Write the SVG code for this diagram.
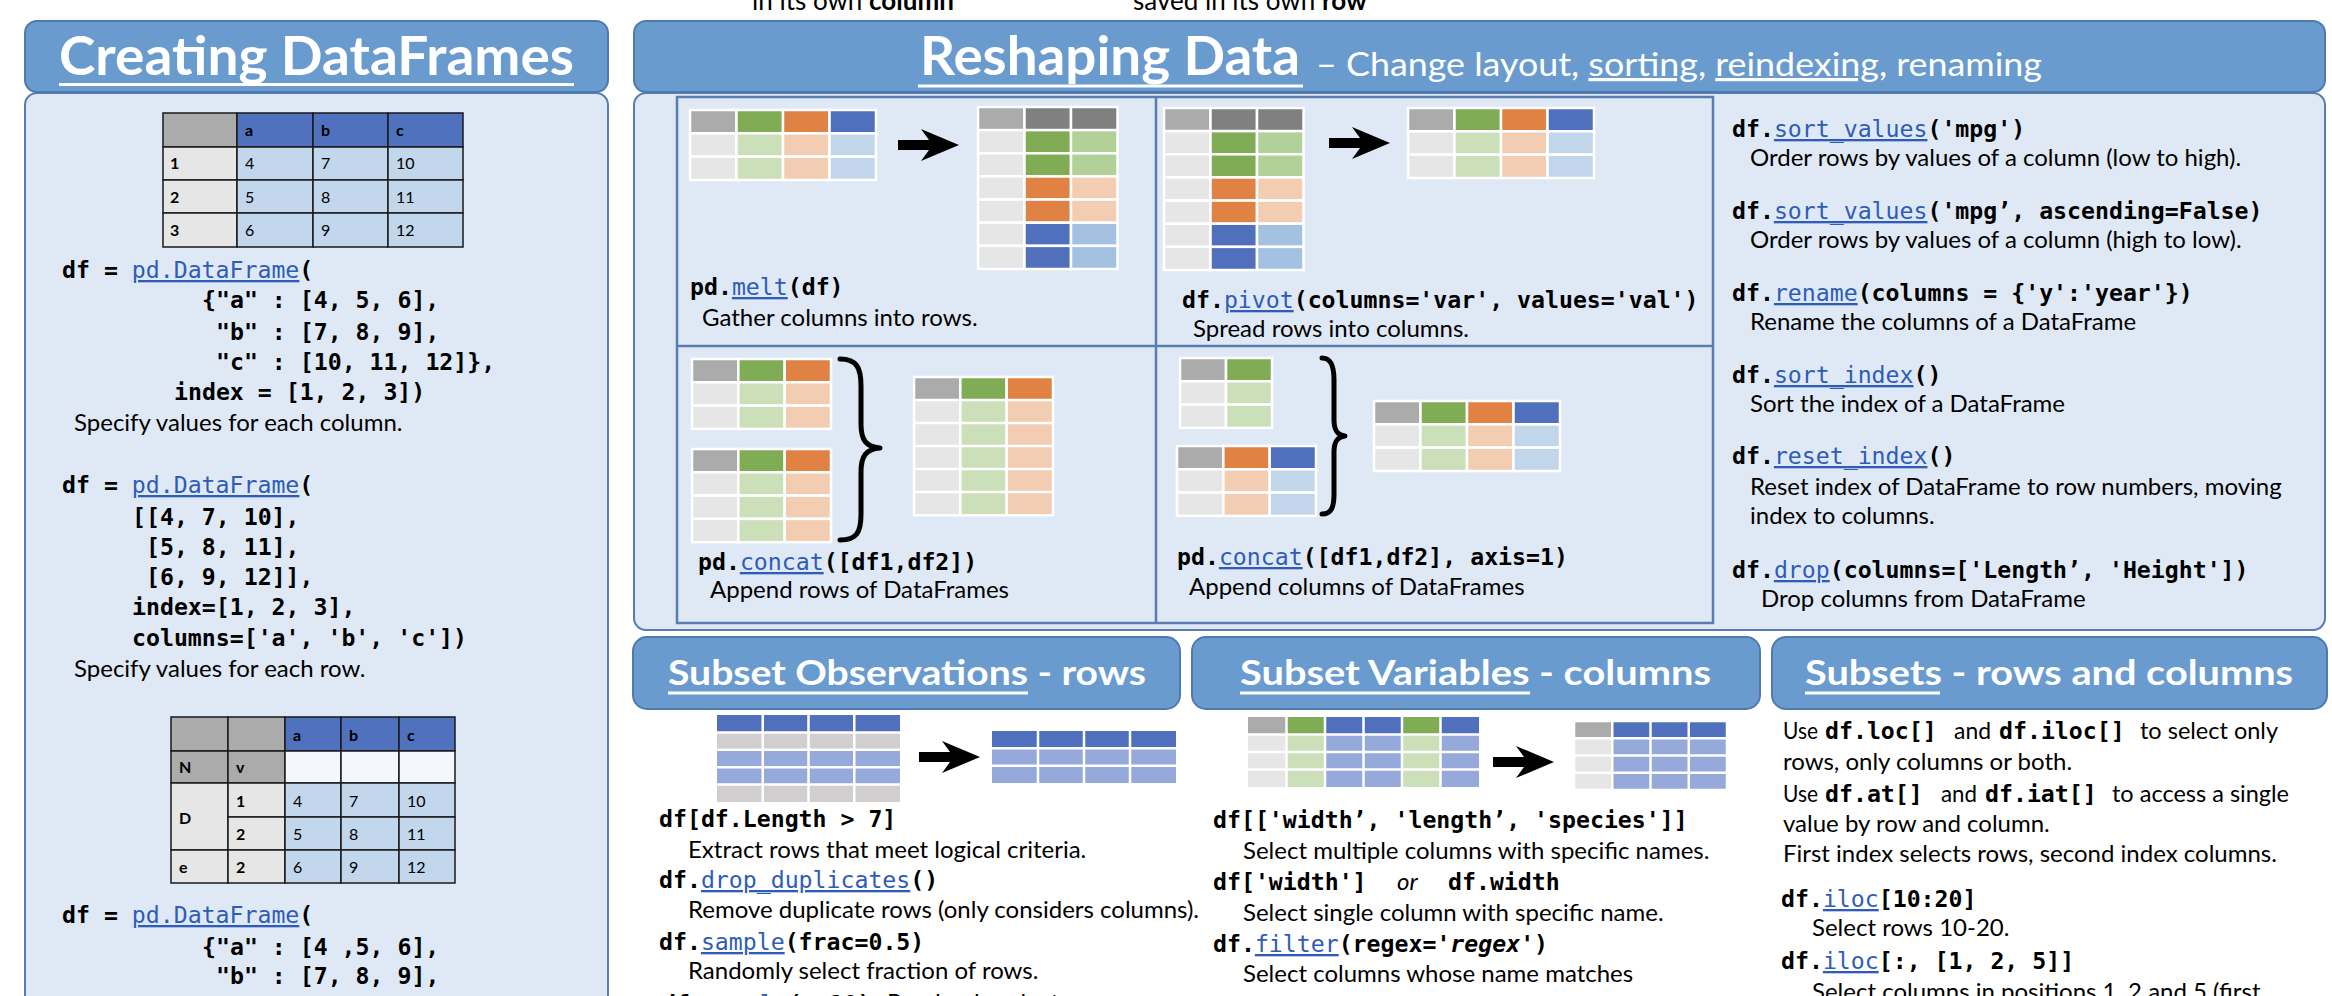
<svg xmlns="http://www.w3.org/2000/svg" xmlns:xlink="http://www.w3.org/1999/xlink" width="2332" height="996" viewBox="0 0 2332 996">
<style>
.code{font-family:"DejaVu Sans Mono",monospace;font-weight:bold;font-size:23.2px;fill:#000}
.lnk{font-weight:normal;fill:#2E5CB8;text-decoration:underline}
.desc{font-family:Lato,"Open Sans",sans-serif;font-size:24px;fill:#000}
.top{font-family:Lato,"Open Sans",sans-serif;font-size:26px;fill:#000}
.hdr{fill:#6A9BCF;stroke:#4F7AB0;stroke-width:2}
.body{fill:#DFE9F5;stroke:#587CAF;stroke-width:2}
.ttl{font-family:Lato,"Open Sans",sans-serif;font-weight:bold;fill:#fff}
.sub{font-family:Lato,"Open Sans",sans-serif;font-weight:normal;fill:#fff}
.ul{stroke:#fff;stroke-width:3}
.grid{fill:none;stroke:#5A7DAF;stroke-width:2.5}
.cells rect{stroke:#fff;stroke-width:2.5}
.wl{fill:none;stroke:#fff;stroke-width:2.5}
.bt rect{stroke:#1a1a1a;stroke-width:1.5}
.ct{font-family:Lato,"Open Sans",sans-serif;font-size:16px;fill:#000}
.ctb{font-family:Lato,"Open Sans",sans-serif;font-size:16px;font-weight:bold;fill:#000}
.g0{fill:#ABABAB}.gn{fill:#7FAC55}.or{fill:#E08244}.bl{fill:#5070BE}.dg{fill:#808080}
.lg{fill:#E6E6E6}.lgn{fill:#CBDFB8}.lor{fill:#F2CDB2}.lbl{fill:#C2D6EB}.mgn{fill:#B2D198}.mbl{fill:#A4C1E2}
.sb{fill:#95A9DA}.sg{fill:#D0CECE}
.tb{fill:#4F71BE}.td{fill:#C2D6EC}.ti{fill:#E6E6E6}.tw{fill:#F4F7FB}
.brace{fill:none;stroke:#000;stroke-width:5;stroke-linecap:round;stroke-linejoin:round}
</style>
<defs>
<path id="arr" d="M0,-5 H31 L23,-16 L61,0 L23,16 L31,5 H0 Z" fill="#000"/>
<g id="wide4" class="cells">
<rect x="0" y="0" width="46.5" height="23.33" class="g0"/><rect x="46.5" y="0" width="46.5" height="23.33" class="gn"/><rect x="93" y="0" width="46.5" height="23.33" class="or"/><rect x="139.5" y="0" width="46.5" height="23.33" class="bl"/>
<rect x="0" y="23.33" width="46.5" height="23.33" class="lg"/><rect x="46.5" y="23.33" width="46.5" height="23.33" class="lgn"/><rect x="93" y="23.33" width="46.5" height="23.33" class="lor"/><rect x="139.5" y="23.33" width="46.5" height="23.33" class="lbl"/>
<rect x="0" y="46.67" width="46.5" height="23.33" class="lg"/><rect x="46.5" y="46.67" width="46.5" height="23.33" class="lgn"/><rect x="93" y="46.67" width="46.5" height="23.33" class="lor"/><rect x="139.5" y="46.67" width="46.5" height="23.33" class="lbl"/>
</g>
<g id="long3" class="cells">
<rect x="0" y="0" width="46.5" height="23.14" class="g0"/><rect x="46.5" y="0" width="46.5" height="23.14" class="dg"/><rect x="93" y="0" width="46.5" height="23.14" class="dg"/>
<rect x="0" y="23.14" width="46.5" height="23.14" class="lg"/><rect x="46.5" y="23.14" width="46.5" height="23.14" class="gn"/><rect x="93" y="23.14" width="46.5" height="23.14" class="mgn"/>
<rect x="0" y="46.29" width="46.5" height="23.14" class="lg"/><rect x="46.5" y="46.29" width="46.5" height="23.14" class="gn"/><rect x="93" y="46.29" width="46.5" height="23.14" class="mgn"/>
<rect x="0" y="69.43" width="46.5" height="23.14" class="lg"/><rect x="46.5" y="69.43" width="46.5" height="23.14" class="or"/><rect x="93" y="69.43" width="46.5" height="23.14" class="lor"/>
<rect x="0" y="92.57" width="46.5" height="23.14" class="lg"/><rect x="46.5" y="92.57" width="46.5" height="23.14" class="or"/><rect x="93" y="92.57" width="46.5" height="23.14" class="lor"/>
<rect x="0" y="115.71" width="46.5" height="23.14" class="lg"/><rect x="46.5" y="115.71" width="46.5" height="23.14" class="bl"/><rect x="93" y="115.71" width="46.5" height="23.14" class="mbl"/>
<rect x="0" y="138.86" width="46.5" height="23.14" class="lg"/><rect x="46.5" y="138.86" width="46.5" height="23.14" class="bl"/><rect x="93" y="138.86" width="46.5" height="23.14" class="mbl"/>
</g>
<g id="hdr3" class="cells"><rect x="0" y="0" width="46.33" height="23.3" class="g0"/><rect x="46.33" y="0" width="46.33" height="23.3" class="gn"/><rect x="92.67" y="0" width="46.33" height="23.3" class="or"/></g>
<g id="body3" class="cells"><rect x="0" y="0" width="46.33" height="23.3" class="lg"/><rect x="46.33" y="0" width="46.33" height="23.3" class="lgn"/><rect x="92.67" y="0" width="46.33" height="23.3" class="lor"/></g>
</defs>

<rect x="0" y="0" width="2332" height="996" fill="#fff"/>

<g id="top-captions">
<text class="top" x="752" y="10">in its own <tspan font-weight="bold">column</tspan></text>
<text class="top" x="1133" y="10">saved in its own <tspan font-weight="bold">row</tspan></text>
</g>

<g id="creating-dataframes">
<rect class="body" x="25" y="93" width="583" height="930" rx="12"/>
<rect class="hdr" x="25" y="21" width="583" height="71" rx="12"/>
<text class="ttl" x="59" y="75" font-size="53" textLength="515" lengthAdjust="spacingAndGlyphs">Creating DataFrames</text>
<line class="ul" x1="59" y1="84.5" x2="574" y2="84.5"/>
<g id="table1" class="bt">
<rect x="163" y="113" width="74" height="34" class="g0"/><rect x="237" y="113" width="76" height="34" class="tb"/><rect x="313" y="113" width="75" height="34" class="tb"/><rect x="388" y="113" width="75" height="34" class="tb"/>
<rect x="163" y="147" width="74" height="33" class="ti"/><rect x="237" y="147" width="76" height="33" class="td"/><rect x="313" y="147" width="75" height="33" class="td"/><rect x="388" y="147" width="75" height="33" class="td"/>
<rect x="163" y="180" width="74" height="33" class="ti"/><rect x="237" y="180" width="76" height="33" class="td"/><rect x="313" y="180" width="75" height="33" class="td"/><rect x="388" y="180" width="75" height="33" class="td"/>
<rect x="163" y="213" width="74" height="34" class="ti"/><rect x="237" y="213" width="76" height="34" class="td"/><rect x="313" y="213" width="75" height="34" class="td"/><rect x="388" y="213" width="75" height="34" class="td"/>
<text class="ctb" x="245" y="136">a</text><text class="ctb" x="321" y="136">b</text><text class="ctb" x="396" y="136">c</text>
<text class="ctb" x="170" y="169">1</text><text class="ct" x="245" y="169">4</text><text class="ct" x="321" y="169">7</text><text class="ct" x="396" y="169">10</text>
<text class="ctb" x="170" y="203">2</text><text class="ct" x="245" y="203">5</text><text class="ct" x="321" y="203">8</text><text class="ct" x="396" y="203">11</text>
<text class="ctb" x="170" y="236">3</text><text class="ct" x="245" y="236">6</text><text class="ct" x="321" y="236">9</text><text class="ct" x="396" y="236">12</text>
</g>
<text class="code" x="62" y="278">df = <tspan class="lnk">pd.DataFrame</tspan>(</text>
<text class="code" x="202" y="308">{"a" : [4, 5, 6],</text>
<text class="code" x="216" y="340">"b" : [7, 8, 9],</text>
<text class="code" x="216" y="370">"c" : [10, 11, 12]},</text>
<text class="code" x="174" y="400">index = [1, 2, 3])</text>
<text class="desc" x="74" y="431">Specify values for each column.</text>
<text class="code" x="62" y="493">df = <tspan class="lnk">pd.DataFrame</tspan>(</text>
<text class="code" x="132" y="525">[[4, 7, 10],</text>
<text class="code" x="146" y="555">[5, 8, 11],</text>
<text class="code" x="146" y="585">[6, 9, 12]],</text>
<text class="code" x="132" y="615">index=[1, 2, 3],</text>
<text class="code" x="132" y="646">columns=['a', 'b', 'c'])</text>
<text class="desc" x="74" y="677">Specify values for each row.</text>
<g id="table2" class="bt">
<rect x="171" y="717" width="57" height="34" class="g0"/><rect x="228" y="717" width="57" height="34" class="g0"/><rect x="285" y="717" width="56" height="34" class="tb"/><rect x="341" y="717" width="58" height="34" class="tb"/><rect x="399" y="717" width="56" height="34" class="tb"/>
<rect x="171" y="751" width="57" height="32" class="g0"/><rect x="228" y="751" width="57" height="32" class="g0"/><rect x="285" y="751" width="56" height="32" class="tw"/><rect x="341" y="751" width="58" height="32" class="tw"/><rect x="399" y="751" width="56" height="32" class="tw"/>
<rect x="171" y="783" width="57" height="67" class="ti"/><rect x="228" y="783" width="57" height="34" class="ti"/><rect x="285" y="783" width="56" height="34" class="td"/><rect x="341" y="783" width="58" height="34" class="td"/><rect x="399" y="783" width="56" height="34" class="td"/>
<rect x="228" y="817" width="57" height="33" class="ti"/><rect x="285" y="817" width="56" height="33" class="td"/><rect x="341" y="817" width="58" height="33" class="td"/><rect x="399" y="817" width="56" height="33" class="td"/>
<rect x="171" y="850" width="57" height="33" class="ti"/><rect x="228" y="850" width="57" height="33" class="ti"/><rect x="285" y="850" width="56" height="33" class="td"/><rect x="341" y="850" width="58" height="33" class="td"/><rect x="399" y="850" width="56" height="33" class="td"/>
<text class="ctb" x="293" y="741">a</text><text class="ctb" x="349" y="741">b</text><text class="ctb" x="407" y="741">c</text>
<text class="ctb" x="179" y="773">N</text><text class="ctb" x="236" y="773">v</text>
<text class="ctb" x="179" y="824">D</text>
<text class="ctb" x="236" y="807">1</text><text class="ct" x="293" y="807">4</text><text class="ct" x="349" y="807">7</text><text class="ct" x="407" y="807">10</text>
<text class="ctb" x="236" y="840">2</text><text class="ct" x="293" y="840">5</text><text class="ct" x="349" y="840">8</text><text class="ct" x="407" y="840">11</text>
<text class="ctb" x="179" y="873">e</text><text class="ctb" x="236" y="873">2</text><text class="ct" x="293" y="873">6</text><text class="ct" x="349" y="873">9</text><text class="ct" x="407" y="873">12</text>
</g>
<text class="code" x="62" y="923">df = <tspan class="lnk">pd.DataFrame</tspan>(</text>
<text class="code" x="202" y="955">{"a" : [4 ,5, 6],</text>
<text class="code" x="216" y="984">"b" : [7, 8, 9],</text>
</g>

<g id="reshaping-data">
<rect class="body" x="634" y="93" width="1691" height="537" rx="12"/>
<rect class="hdr" x="634" y="21" width="1691" height="71" rx="12"/>
<text class="ttl" x="920" y="75" font-size="53" textLength="380" lengthAdjust="spacingAndGlyphs">Reshaping Data</text>
<line class="ul" x1="918" y1="86" x2="1303" y2="86"/>
<text class="sub" x="1316" y="76" font-size="32" textLength="726" lengthAdjust="spacingAndGlyphs">– Change layout, <tspan text-decoration="underline">sorting</tspan>, <tspan text-decoration="underline">reindexing</tspan>, renaming</text>
<path class="grid" d="M677,97 H1713 V623 H677 Z M1156,97 V623 M677,346 H1713"/>
</g>

<g id="melt">
<use xlink:href="#wide4" x="690" y="110"/>
<use xlink:href="#long3" x="978" y="107"/>
<text class="code" x="690" y="295">pd.<tspan class="lnk">melt</tspan>(df)</text>
<text class="desc" x="702" y="326">Gather columns into rows.</text>
</g>

<g id="pivot">
<use xlink:href="#long3" x="1164" y="108"/>
<use xlink:href="#wide4" x="1408" y="108"/>
<text class="code" x="1182" y="308">df.<tspan class="lnk">pivot</tspan>(columns='var', values='val')</text>
<text class="desc" x="1193" y="337">Spread rows into columns.</text>
</g>

<g id="concat-rows">
<use xlink:href="#hdr3" x="692" y="359"/><use xlink:href="#body3" x="692" y="382.3"/><use xlink:href="#body3" x="692" y="405.6"/>
<use xlink:href="#hdr3" x="692" y="449"/><use xlink:href="#body3" x="692" y="472.3"/><use xlink:href="#body3" x="692" y="495.6"/><use xlink:href="#body3" x="692" y="518.9"/>
<use xlink:href="#hdr3" x="914" y="377"/><use xlink:href="#body3" x="914" y="400"/><use xlink:href="#body3" x="914" y="423"/><use xlink:href="#body3" x="914" y="446"/><use xlink:href="#body3" x="914" y="469"/><use xlink:href="#body3" x="914" y="492"/>
<text class="code" x="698" y="570">pd.<tspan class="lnk">concat</tspan>([df1,df2])</text>
<text class="desc" x="710" y="598">Append rows of DataFrames</text>
</g>

<g id="concat-columns">
<g class="cells">
<rect x="1180" y="358" width="46" height="23.3" class="g0"/><rect x="1226" y="358" width="46" height="23.3" class="gn"/>
<rect x="1180" y="381.3" width="46" height="23.3" class="lg"/><rect x="1226" y="381.3" width="46" height="23.3" class="lgn"/>
<rect x="1180" y="404.6" width="46" height="23.3" class="lg"/><rect x="1226" y="404.6" width="46" height="23.3" class="lgn"/>
<rect x="1177" y="446" width="46.33" height="23.3" class="g0"/><rect x="1223.33" y="446" width="46.33" height="23.3" class="or"/><rect x="1269.67" y="446" width="46.33" height="23.3" class="bl"/>
<rect x="1177" y="469.3" width="46.33" height="23.3" class="lg"/><rect x="1223.33" y="469.3" width="46.33" height="23.3" class="lor"/><rect x="1269.67" y="469.3" width="46.33" height="23.3" class="lbl"/>
<rect x="1177" y="492.6" width="46.33" height="23.3" class="lg"/><rect x="1223.33" y="492.6" width="46.33" height="23.3" class="lor"/><rect x="1269.67" y="492.6" width="46.33" height="23.3" class="lbl"/>
</g>
<use xlink:href="#wide4" x="1374" y="401"/>
<text class="code" x="1177" y="565">pd.<tspan class="lnk">concat</tspan>([df1,df2], axis=1)</text>
<text class="desc" x="1189" y="595">Append columns of DataFrames</text>
</g>

<g id="reshape-methods">
<text class="code" x="1732" y="137">df.<tspan class="lnk">sort_values</tspan>('mpg')</text>
<text class="desc" x="1750" y="166">Order rows by values of a column (low to high).</text>
<text class="code" x="1732" y="219">df.<tspan class="lnk">sort_values</tspan>('mpg’, ascending=False)</text>
<text class="desc" x="1750" y="248">Order rows by values of a column (high to low).</text>
<text class="code" x="1732" y="301">df.<tspan class="lnk">rename</tspan>(columns = {'y':'year'})</text>
<text class="desc" x="1750" y="330">Rename the columns of a DataFrame</text>
<text class="code" x="1732" y="383">df.<tspan class="lnk">sort_index</tspan>()</text>
<text class="desc" x="1750" y="412">Sort the index of a DataFrame</text>
<text class="code" x="1732" y="464">df.<tspan class="lnk">reset_index</tspan>()</text>
<text class="desc" x="1750" y="495">Reset index of DataFrame to row numbers, moving</text>
<text class="desc" x="1750" y="524">index to columns.</text>
<text class="code" x="1732" y="578">df.<tspan class="lnk">drop</tspan>(columns=['Length’, 'Height'])</text>
<text class="desc" x="1761" y="607">Drop columns from DataFrame</text>
</g>

<g id="subset-observations">
<rect class="hdr" x="633" y="637" width="547" height="72" rx="14"/>
<text class="ttl" x="668" y="685" font-size="35" textLength="478" lengthAdjust="spacingAndGlyphs">Subset Observations - rows</text>
<line class="ul" x1="668" y1="693" x2="1028" y2="693"/>
<rect x="717" y="715" width="183" height="17.4" class="bl"/><rect x="717" y="732.4" width="183" height="17.4" class="sg"/><rect x="717" y="749.8" width="183" height="34.8" class="sb"/><rect x="717" y="784.6" width="183" height="17.4" class="sg"/>
<path class="wl" d="M762.75,715 V802 M808.5,715 V802 M854.25,715 V802 M717,732.4 H900 M717,749.8 H900 M717,767.2 H900 M717,784.6 H900"/>
<rect x="992" y="731" width="184" height="17.33" class="bl"/><rect x="992" y="748.33" width="184" height="34.67" class="sb"/>
<path class="wl" d="M1038,731 V783 M1084,731 V783 M1130,731 V783 M992,748.33 H1176 M992,765.67 H1176"/>
<text class="code" x="659" y="827">df[df.Length &gt; 7]</text>
<text class="desc" x="688" y="858">Extract rows that meet logical criteria.</text>
<text class="code" x="659" y="888">df.<tspan class="lnk">drop_duplicates</tspan>()</text>
<text class="desc" x="688" y="918">Remove duplicate rows (only considers columns).</text>
<text class="code" x="659" y="950">df.<tspan class="lnk">sample</tspan>(frac=0.5)</text>
<text class="desc" x="688" y="979">Randomly select fraction of rows.</text>
<text class="code" x="662" y="1012">df.<tspan class="lnk">sample</tspan>(n=10)</text>
<text class="desc" x="887" y="1011">Randomly select n rows.</text>
</g>

<g id="subset-variables">
<rect class="hdr" x="1192" y="637" width="568" height="72" rx="14"/>
<text class="ttl" x="1240" y="685" font-size="35" textLength="471" lengthAdjust="spacingAndGlyphs">Subset Variables - columns</text>
<line class="ul" x1="1240" y1="693" x2="1530" y2="693"/>
<rect x="1248" y="717" width="38.5" height="17.5" class="g0"/><rect x="1286.5" y="717" width="38.5" height="17.5" class="gn"/><rect x="1325" y="717" width="77" height="17.5" class="bl"/><rect x="1402" y="717" width="38.5" height="17.5" class="gn"/><rect x="1440.5" y="717" width="38.5" height="17.5" class="bl"/>
<rect x="1248" y="734.5" width="38.5" height="52.5" class="lg"/><rect x="1286.5" y="734.5" width="38.5" height="52.5" class="lgn"/><rect x="1325" y="734.5" width="77" height="52.5" class="sb"/><rect x="1402" y="734.5" width="38.5" height="52.5" class="lgn"/><rect x="1440.5" y="734.5" width="38.5" height="52.5" class="sb"/>
<path class="wl" d="M1286.5,717 V787 M1325,717 V787 M1363.5,717 V787 M1402,717 V787 M1440.5,717 V787 M1248,734.5 H1479 M1248,752 H1479 M1248,769.5 H1479"/>
<rect x="1574" y="721" width="38.25" height="17.25" class="g0"/><rect x="1612.25" y="721" width="114.75" height="17.25" class="bl"/>
<rect x="1574" y="738.25" width="38.25" height="51.75" class="lg"/><rect x="1612.25" y="738.25" width="114.75" height="51.75" class="sb"/>
<path class="wl" d="M1612.25,721 V790 M1650.5,721 V790 M1688.75,721 V790 M1574,738.25 H1727 M1574,755.5 H1727 M1574,772.75 H1727 M1574,721 H1727 V790 H1574 Z"/>
<text class="code" x="1213" y="828">df[['width’, 'length’, 'species']]</text>
<text class="desc" x="1243" y="859">Select multiple columns with specific names.</text>
<text class="code" x="1213" y="890">df['width']</text>
<text class="desc" x="1397" y="890" font-style="italic">or</text>
<text class="code" x="1448" y="890">df.width</text>
<text class="desc" x="1243" y="921">Select single column with specific name.</text>
<text class="code" x="1213" y="952">df.<tspan class="lnk">filter</tspan>(regex='<tspan font-style="italic">regex</tspan>')</text>
<text class="desc" x="1243" y="982">Select columns whose name matches</text>
</g>

<g id="subsets-rows-columns">
<rect class="hdr" x="1772" y="637" width="555" height="72" rx="14"/>
<text class="ttl" x="1805" y="685" font-size="35" textLength="488" lengthAdjust="spacingAndGlyphs">Subsets - rows and columns</text>
<line class="ul" x1="1805" y1="693" x2="1940" y2="693"/>
<text class="desc" x="1783" y="739" textLength="35" lengthAdjust="spacingAndGlyphs">Use</text><text class="code" x="1825" y="739">df.loc[]</text><text class="desc" x="1954" y="739" textLength="37" lengthAdjust="spacingAndGlyphs">and</text><text class="code" x="1999" y="739">df.iloc[]</text><text class="desc" x="2140" y="739" textLength="138" lengthAdjust="spacingAndGlyphs">to select only</text>
<text class="desc" x="1783" y="770">rows, only columns or both.</text>
<text class="desc" x="1783" y="802" textLength="35" lengthAdjust="spacingAndGlyphs">Use</text><text class="code" x="1825" y="802">df.at[]</text><text class="desc" x="1941" y="802" textLength="36" lengthAdjust="spacingAndGlyphs">and</text><text class="code" x="1985" y="802">df.iat[]</text><text class="desc" x="2112" y="802" textLength="177" lengthAdjust="spacingAndGlyphs">to access a single</text>
<text class="desc" x="1783" y="832">value by row and column.</text>
<text class="desc" x="1783" y="862">First index selects rows, second index columns.</text>
<text class="code" x="1781" y="907">df.<tspan class="lnk">iloc</tspan>[10:20]</text>
<text class="desc" x="1812" y="936">Select rows 10-20.</text>
<text class="code" x="1781" y="969">df.<tspan class="lnk">iloc</tspan>[:, [1, 2, 5]]</text>
<text class="desc" x="1812" y="1000">Select columns in positions 1, 2 and 5 (first</text>
</g>

<g id="connectors">
<use xlink:href="#arr" transform="translate(898,145)"/>
<use xlink:href="#arr" transform="translate(1329,143)"/>
<use xlink:href="#arr" transform="translate(919,757)"/>
<use xlink:href="#arr" transform="translate(1493,762)"/>
<path class="brace" d="M840,359 C857,359 861,368 861,386 L861,424 C861,440 866,447 880,448 C866,449 861,456 861,472 L861,514 C861,532 857,540 840,540"/>
<path class="brace" d="M1322,358 C1331,358 1334,366 1334,380 L1334,420 C1334,430 1337,435 1345,436 C1337,437 1334,442 1334,452 L1334,494 C1334,508 1331,514 1322,514"/>
</g>
</svg>
